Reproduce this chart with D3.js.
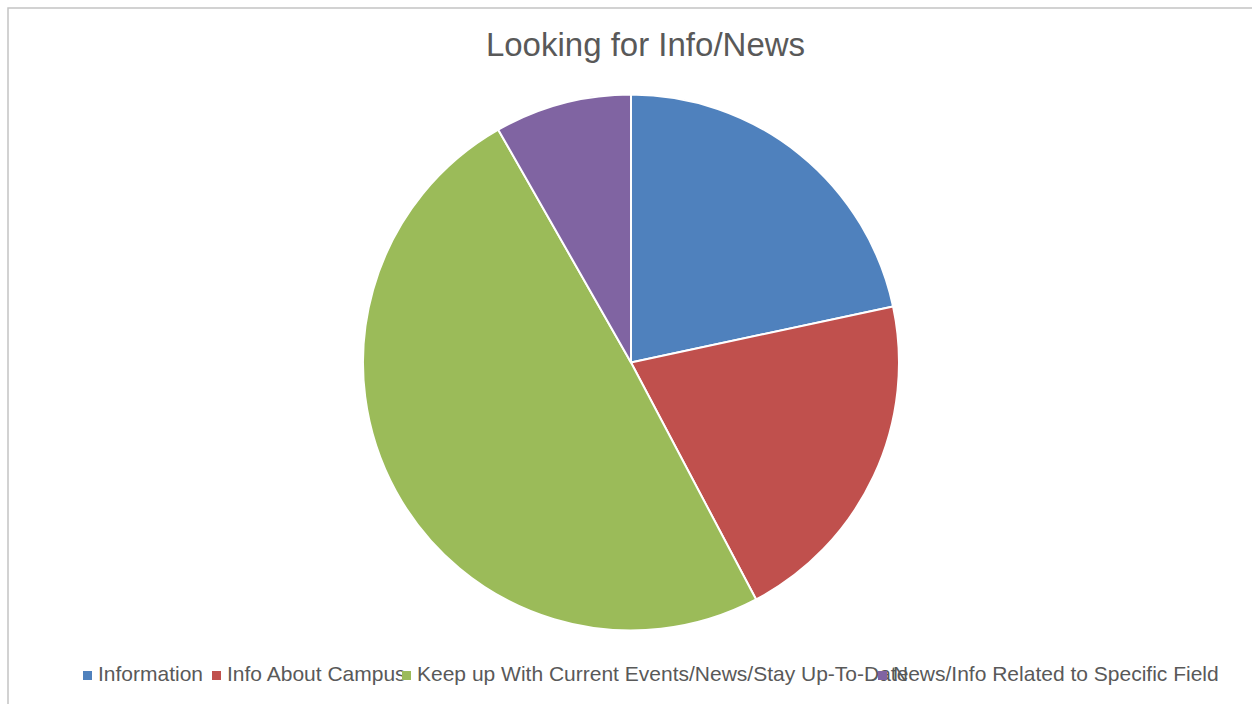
<!DOCTYPE html>
<html>
<head>
<meta charset="utf-8">
<script src="https://cdn.jsdelivr.net/npm/d3@7"></script>
<style>
  html, body { margin: 0; padding: 0; background: #fff; }
  svg { display: block; }
  text { font-family: "Liberation Sans", Arial, Helvetica, sans-serif; fill: #595959; }
</style>
</head>
<body>
<svg id="chart" width="1252" height="704"></svg>
<script>
// Survey responses: reasons for looking for info/news
const categories = [
  "Information",
  "Info About Campus",
  "Keep up With Current Events/News/Stay Up-To-Date",
  "News/Info Related to Specific Field"
];
const counts = [21, 20, 48, 8];
const colors = ["#4F81BD", "#C0504D", "#9BBB59", "#8064A2"];
const chartTitle = "Looking for Info/News";

const W = 1252, H = 704;
const svg = d3.select("#chart");

// chart frame (left and top edges visible)
svg.append("rect")
  .attr("x", 8).attr("y", 8)
  .attr("width", W + 20).attr("height", H + 20)
  .attr("fill", "#fff")
  .attr("stroke", "#c4c4c4")
  .attr("stroke-width", 1.5);

// title
svg.append("text")
  .attr("x", 645.5).attr("y", 56)
  .attr("text-anchor", "middle")
  .style("font-size", "33px")
  .text(chartTitle);

// pie
const cx = 631, cy = 362.5, R = 268;
const data = categories.map((c, i) => ({ name: c, value: counts[i], color: colors[i] }));
const pie = d3.pie().value(d => d.value).sort(null);
const arc = d3.arc().innerRadius(0).outerRadius(R);

svg.append("g")
  .attr("transform", `translate(${cx},${cy})`)
  .selectAll("path")
  .data(pie(data))
  .join("path")
  .attr("d", arc)
  .attr("fill", d => d.data.color)
  .attr("stroke", "#fff")
  .attr("stroke-width", 2)
  .attr("stroke-linejoin", "round");

// legend: entries are packed tightly, so long labels run under the next marker
const legendX = [83, 212, 402, 878];
const legend = svg.append("g");
data.forEach((d, i) => {
  legend.append("rect")
    .attr("x", legendX[i]).attr("y", 671)
    .attr("width", 9).attr("height", 9)
    .attr("fill", d.color);
  legend.append("text")
    .attr("x", legendX[i] + 15).attr("y", 681)
    .style("font-size", "21px")
    .text(d.name);
});
</script>
</body>
</html>
